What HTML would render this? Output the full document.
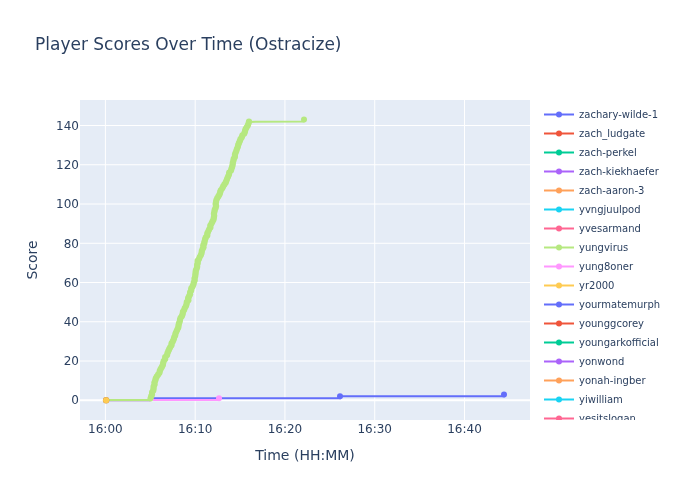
<!DOCTYPE html>
<html><head><meta charset="utf-8"><title>Player Scores Over Time (Ostracize)</title>
<style>
html,body{margin:0;padding:0;background:#fff;}
svg{display:block;}
text{font-family:"DejaVu Sans","Liberation Sans",sans-serif;fill:#2a3f5f;}
</style></head><body>
<svg width="700" height="500" viewBox="0 0 700 500">
<rect x="0" y="0" width="700" height="500" fill="#ffffff"/>
<rect x="80" y="100" width="450" height="320" fill="#E5ECF6"/>
<clipPath id="pc"><rect x="80" y="100" width="450" height="320"/></clipPath>
<clipPath id="lc"><rect x="538" y="100" width="160" height="320"/></clipPath>

<g stroke="#ffffff" stroke-width="1" shape-rendering="auto">
<line x1="105.40" y1="100" x2="105.40" y2="420"/>
<line x1="195.18" y1="100" x2="195.18" y2="420"/>
<line x1="284.95" y1="100" x2="284.95" y2="420"/>
<line x1="374.73" y1="100" x2="374.73" y2="420"/>
<line x1="464.50" y1="100" x2="464.50" y2="420"/>
<line x1="80" y1="361.00" x2="530" y2="361.00"/>
<line x1="80" y1="321.75" x2="530" y2="321.75"/>
<line x1="80" y1="282.50" x2="530" y2="282.50"/>
<line x1="80" y1="243.25" x2="530" y2="243.25"/>
<line x1="80" y1="204.00" x2="530" y2="204.00"/>
<line x1="80" y1="164.75" x2="530" y2="164.75"/>
<line x1="80" y1="125.50" x2="530" y2="125.50"/>
</g>
<line x1="80" y1="400.25" x2="530" y2="400.25" stroke="#ffffff" stroke-width="2"/>
<g clip-path="url(#pc)">
<path d="M152,398.3 L340,398.3 L340,396.3 L504,396.3 L504,394.4" stroke="#636EFA" stroke-width="2" fill="none"/>
<circle cx="340" cy="396.3" r="3" fill="#636EFA"/>
<circle cx="504" cy="394.4" r="3" fill="#636EFA"/>
<path d="M106.1,400.6 L150.5,400.6" stroke="#b9a3cf" stroke-width="1.6" fill="none"/>
<path d="M106.1,400 L150.5,400" stroke="#B6E880" stroke-width="2" fill="none"/>
<path d="M150.5,400 L150.6,398.0 L153.4,390.0 L155.5,380.0 L158.0,375.0 L160.6,370.0 L164.2,360.0 L169.3,350.0 L173.3,340.0 L177.5,330.0 L180.0,320.0 L184.0,310.0 L187.9,300.0 L191.3,290.0 L194.5,280.0 L195.9,270.0 L198.3,260.0 L202.5,250.0 L205.3,240.0 L209.0,230.0 L213.0,220.0 L214.8,210.0 L216.7,200.0 L221.5,190.0 L226.5,180.0 L230.8,170.0 L233.8,160.0 L236.9,150.0 L240.6,140.0 L245.6,130.0 L248.0,125.0 L249.0,121.9 L304,121.6 L304,119.6" stroke="#B6E880" stroke-width="2" fill="none" stroke-linejoin="round"/>
<g fill="#B6E880">
<circle cx="150.6" cy="398.3" r="3.1"/>
<circle cx="151.2" cy="396.3" r="3.1"/>
<circle cx="152.0" cy="394.4" r="3.1"/>
<circle cx="152.1" cy="392.4" r="3.1"/>
<circle cx="153.3" cy="390.4" r="3.1"/>
<circle cx="153.6" cy="388.5" r="3.1"/>
<circle cx="153.6" cy="386.5" r="3.1"/>
<circle cx="154.6" cy="384.6" r="3.1"/>
<circle cx="154.4" cy="382.6" r="3.1"/>
<circle cx="155.3" cy="380.6" r="3.1"/>
<circle cx="155.7" cy="378.7" r="3.1"/>
<circle cx="156.7" cy="376.7" r="3.1"/>
<circle cx="158.1" cy="374.7" r="3.1"/>
<circle cx="159.5" cy="372.8" r="3.1"/>
<circle cx="159.8" cy="370.8" r="3.1"/>
<circle cx="160.7" cy="368.9" r="3.1"/>
<circle cx="161.9" cy="366.9" r="3.1"/>
<circle cx="162.9" cy="364.9" r="3.1"/>
<circle cx="163.2" cy="363.0" r="3.1"/>
<circle cx="163.7" cy="361.0" r="3.1"/>
<circle cx="165.2" cy="359.0" r="3.1"/>
<circle cx="165.2" cy="357.1" r="3.1"/>
<circle cx="167.1" cy="355.1" r="3.1"/>
<circle cx="167.5" cy="353.1" r="3.1"/>
<circle cx="168.3" cy="351.2" r="3.1"/>
<circle cx="169.2" cy="349.2" r="3.1"/>
<circle cx="170.2" cy="347.3" r="3.1"/>
<circle cx="171.5" cy="345.3" r="3.1"/>
<circle cx="171.6" cy="343.3" r="3.1"/>
<circle cx="172.8" cy="341.4" r="3.1"/>
<circle cx="173.7" cy="339.4" r="3.1"/>
<circle cx="174.2" cy="337.4" r="3.1"/>
<circle cx="175.2" cy="335.5" r="3.1"/>
<circle cx="175.5" cy="333.5" r="3.1"/>
<circle cx="176.4" cy="331.6" r="3.1"/>
<circle cx="177.3" cy="329.6" r="3.1"/>
<circle cx="178.3" cy="327.6" r="3.1"/>
<circle cx="178.5" cy="325.7" r="3.1"/>
<circle cx="178.9" cy="323.7" r="3.1"/>
<circle cx="179.7" cy="321.8" r="3.1"/>
<circle cx="180.0" cy="319.8" r="3.1"/>
<circle cx="180.6" cy="317.8" r="3.1"/>
<circle cx="182.0" cy="315.9" r="3.1"/>
<circle cx="182.7" cy="313.9" r="3.1"/>
<circle cx="182.9" cy="311.9" r="3.1"/>
<circle cx="184.1" cy="310.0" r="3.1"/>
<circle cx="184.8" cy="308.0" r="3.1"/>
<circle cx="186.0" cy="306.1" r="3.1"/>
<circle cx="186.6" cy="304.1" r="3.1"/>
<circle cx="186.8" cy="302.1" r="3.1"/>
<circle cx="188.4" cy="300.2" r="3.1"/>
<circle cx="188.1" cy="298.2" r="3.1"/>
<circle cx="189.1" cy="296.2" r="3.1"/>
<circle cx="190.1" cy="294.3" r="3.1"/>
<circle cx="190.1" cy="292.3" r="3.1"/>
<circle cx="191.2" cy="290.4" r="3.1"/>
<circle cx="191.3" cy="288.4" r="3.1"/>
<circle cx="192.6" cy="286.4" r="3.1"/>
<circle cx="193.4" cy="284.5" r="3.1"/>
<circle cx="193.8" cy="282.5" r="3.1"/>
<circle cx="194.7" cy="280.5" r="3.1"/>
<circle cx="194.5" cy="278.6" r="3.1"/>
<circle cx="195.2" cy="276.6" r="3.1"/>
<circle cx="195.4" cy="274.6" r="3.1"/>
<circle cx="195.6" cy="272.7" r="3.1"/>
<circle cx="195.8" cy="270.7" r="3.1"/>
<circle cx="196.6" cy="268.8" r="3.1"/>
<circle cx="197.2" cy="266.8" r="3.1"/>
<circle cx="197.1" cy="264.8" r="3.1"/>
<circle cx="197.8" cy="262.9" r="3.1"/>
<circle cx="197.6" cy="260.9" r="3.1"/>
<circle cx="199.0" cy="259.0" r="3.1"/>
<circle cx="199.7" cy="257.0" r="3.1"/>
<circle cx="200.9" cy="255.0" r="3.1"/>
<circle cx="201.6" cy="253.1" r="3.1"/>
<circle cx="201.8" cy="251.1" r="3.1"/>
<circle cx="202.6" cy="249.1" r="3.1"/>
<circle cx="203.5" cy="247.2" r="3.1"/>
<circle cx="203.3" cy="245.2" r="3.1"/>
<circle cx="204.3" cy="243.2" r="3.1"/>
<circle cx="204.6" cy="241.3" r="3.1"/>
<circle cx="205.1" cy="239.3" r="3.1"/>
<circle cx="205.8" cy="237.4" r="3.1"/>
<circle cx="207.3" cy="235.4" r="3.1"/>
<circle cx="207.3" cy="233.4" r="3.1"/>
<circle cx="208.2" cy="231.5" r="3.1"/>
<circle cx="209.1" cy="229.5" r="3.1"/>
<circle cx="210.4" cy="227.6" r="3.1"/>
<circle cx="210.3" cy="225.6" r="3.1"/>
<circle cx="211.5" cy="223.6" r="3.1"/>
<circle cx="212.4" cy="221.7" r="3.1"/>
<circle cx="213.5" cy="219.7" r="3.1"/>
<circle cx="213.8" cy="217.7" r="3.1"/>
<circle cx="214.2" cy="215.8" r="3.1"/>
<circle cx="213.9" cy="213.8" r="3.1"/>
<circle cx="214.4" cy="211.9" r="3.1"/>
<circle cx="214.7" cy="209.9" r="3.1"/>
<circle cx="215.6" cy="207.9" r="3.1"/>
<circle cx="216.1" cy="206.0" r="3.1"/>
<circle cx="215.6" cy="204.0" r="3.1"/>
<circle cx="216.0" cy="202.0" r="3.1"/>
<circle cx="216.4" cy="200.1" r="3.1"/>
<circle cx="217.3" cy="198.1" r="3.1"/>
<circle cx="218.5" cy="196.2" r="3.1"/>
<circle cx="219.6" cy="194.2" r="3.1"/>
<circle cx="220.2" cy="192.2" r="3.1"/>
<circle cx="220.8" cy="190.3" r="3.1"/>
<circle cx="222.3" cy="188.3" r="3.1"/>
<circle cx="223.2" cy="186.3" r="3.1"/>
<circle cx="224.4" cy="184.4" r="3.1"/>
<circle cx="225.8" cy="182.4" r="3.1"/>
<circle cx="226.5" cy="180.5" r="3.1"/>
<circle cx="227.2" cy="178.5" r="3.1"/>
<circle cx="228.1" cy="176.5" r="3.1"/>
<circle cx="229.0" cy="174.6" r="3.1"/>
<circle cx="229.2" cy="172.6" r="3.1"/>
<circle cx="231.0" cy="170.6" r="3.1"/>
<circle cx="231.5" cy="168.7" r="3.1"/>
<circle cx="232.2" cy="166.7" r="3.1"/>
<circle cx="232.7" cy="164.8" r="3.1"/>
<circle cx="232.8" cy="162.8" r="3.1"/>
<circle cx="233.4" cy="160.8" r="3.1"/>
<circle cx="233.7" cy="158.9" r="3.1"/>
<circle cx="234.9" cy="156.9" r="3.1"/>
<circle cx="234.9" cy="154.9" r="3.1"/>
<circle cx="235.5" cy="153.0" r="3.1"/>
<circle cx="236.3" cy="151.0" r="3.1"/>
<circle cx="236.9" cy="149.1" r="3.1"/>
<circle cx="237.8" cy="147.1" r="3.1"/>
<circle cx="238.2" cy="145.1" r="3.1"/>
<circle cx="238.9" cy="143.2" r="3.1"/>
<circle cx="239.8" cy="141.2" r="3.1"/>
<circle cx="240.5" cy="139.2" r="3.1"/>
<circle cx="241.8" cy="137.3" r="3.1"/>
<circle cx="242.4" cy="135.3" r="3.1"/>
<circle cx="244.3" cy="133.4" r="3.1"/>
<circle cx="245.0" cy="131.4" r="3.1"/>
<circle cx="245.5" cy="129.4" r="3.1"/>
<circle cx="246.5" cy="127.5" r="3.1"/>
<circle cx="247.8" cy="125.5" r="3.1"/>
<circle cx="248.5" cy="123.5" r="3.1"/>
<circle cx="249.0" cy="121.6" r="3.1"/>
<circle cx="304" cy="119.6" r="3"/>
</g>
<path d="M153,400 L219,400 L219,398.3" stroke="#FF97FF" stroke-width="2" fill="none"/>
<circle cx="219" cy="398.3" r="3" fill="#FF97FF"/>
<circle cx="106.1" cy="400.2" r="3.2" fill="#c98a4a"/>
<circle cx="106.1" cy="400.2" r="3" fill="#FECB52"/>
</g>
<g font-size="12px">
<text x="105.40" y="433" text-anchor="middle">16:00</text>
<text x="195.18" y="433" text-anchor="middle">16:10</text>
<text x="284.95" y="433" text-anchor="middle">16:20</text>
<text x="374.73" y="433" text-anchor="middle">16:30</text>
<text x="464.50" y="433" text-anchor="middle">16:40</text>
<text x="79" y="404" text-anchor="end">0</text>
<text x="79" y="365" text-anchor="end">20</text>
<text x="79" y="326" text-anchor="end">40</text>
<text x="79" y="287" text-anchor="end">60</text>
<text x="79" y="248" text-anchor="end">80</text>
<text x="79" y="208" text-anchor="end">100</text>
<text x="79" y="169" text-anchor="end">120</text>
<text x="79" y="130" text-anchor="end">140</text>
</g>
<text x="35" y="50" font-size="17px">Player Scores Over Time (Ostracize)</text>
<text x="305" y="460" font-size="14px" text-anchor="middle">Time (HH:MM)</text>
<text transform="translate(37.3,260) rotate(-90)" font-size="14px" text-anchor="middle">Score</text>
<g clip-path="url(#lc)">
<line x1="544" y1="114.5" x2="574" y2="114.5" stroke="#636EFA" stroke-width="2"/>
<circle cx="559" cy="114.5" r="3" fill="#636EFA"/>
<text x="579" y="117.9" font-size="10px">zachary-wilde-1</text>
<line x1="544" y1="133.5" x2="574" y2="133.5" stroke="#EF553B" stroke-width="2"/>
<circle cx="559" cy="133.5" r="3" fill="#EF553B"/>
<text x="579" y="136.9" font-size="10px">zach_ludgate</text>
<line x1="544" y1="152.5" x2="574" y2="152.5" stroke="#00CC96" stroke-width="2"/>
<circle cx="559" cy="152.5" r="3" fill="#00CC96"/>
<text x="579" y="155.9" font-size="10px">zach-perkel</text>
<line x1="544" y1="171.5" x2="574" y2="171.5" stroke="#AB63FA" stroke-width="2"/>
<circle cx="559" cy="171.5" r="3" fill="#AB63FA"/>
<text x="579" y="174.9" font-size="10px">zach-kiekhaefer</text>
<line x1="544" y1="190.5" x2="574" y2="190.5" stroke="#FFA15A" stroke-width="2"/>
<circle cx="559" cy="190.5" r="3" fill="#FFA15A"/>
<text x="579" y="193.9" font-size="10px">zach-aaron-3</text>
<line x1="544" y1="209.5" x2="574" y2="209.5" stroke="#19D3F3" stroke-width="2"/>
<circle cx="559" cy="209.5" r="3" fill="#19D3F3"/>
<text x="579" y="212.9" font-size="10px">yvngjuulpod</text>
<line x1="544" y1="228.5" x2="574" y2="228.5" stroke="#FF6692" stroke-width="2"/>
<circle cx="559" cy="228.5" r="3" fill="#FF6692"/>
<text x="579" y="231.9" font-size="10px">yvesarmand</text>
<line x1="544" y1="247.5" x2="574" y2="247.5" stroke="#B6E880" stroke-width="2"/>
<circle cx="559" cy="247.5" r="3" fill="#B6E880"/>
<text x="579" y="250.9" font-size="10px">yungvirus</text>
<line x1="544" y1="266.5" x2="574" y2="266.5" stroke="#FF97FF" stroke-width="2"/>
<circle cx="559" cy="266.5" r="3" fill="#FF97FF"/>
<text x="579" y="269.9" font-size="10px">yung8oner</text>
<line x1="544" y1="285.5" x2="574" y2="285.5" stroke="#FECB52" stroke-width="2"/>
<circle cx="559" cy="285.5" r="3" fill="#FECB52"/>
<text x="579" y="288.9" font-size="10px">yr2000</text>
<line x1="544" y1="304.5" x2="574" y2="304.5" stroke="#636EFA" stroke-width="2"/>
<circle cx="559" cy="304.5" r="3" fill="#636EFA"/>
<text x="579" y="307.9" font-size="10px">yourmatemurph</text>
<line x1="544" y1="323.5" x2="574" y2="323.5" stroke="#EF553B" stroke-width="2"/>
<circle cx="559" cy="323.5" r="3" fill="#EF553B"/>
<text x="579" y="326.9" font-size="10px">younggcorey</text>
<line x1="544" y1="342.5" x2="574" y2="342.5" stroke="#00CC96" stroke-width="2"/>
<circle cx="559" cy="342.5" r="3" fill="#00CC96"/>
<text x="579" y="345.9" font-size="10px">youngarkofficial</text>
<line x1="544" y1="361.5" x2="574" y2="361.5" stroke="#AB63FA" stroke-width="2"/>
<circle cx="559" cy="361.5" r="3" fill="#AB63FA"/>
<text x="579" y="364.9" font-size="10px">yonwond</text>
<line x1="544" y1="380.5" x2="574" y2="380.5" stroke="#FFA15A" stroke-width="2"/>
<circle cx="559" cy="380.5" r="3" fill="#FFA15A"/>
<text x="579" y="383.9" font-size="10px">yonah-ingber</text>
<line x1="544" y1="399.5" x2="574" y2="399.5" stroke="#19D3F3" stroke-width="2"/>
<circle cx="559" cy="399.5" r="3" fill="#19D3F3"/>
<text x="579" y="402.9" font-size="10px">yiwilliam</text>
<line x1="544" y1="418.5" x2="574" y2="418.5" stroke="#FF6692" stroke-width="2"/>
<circle cx="559" cy="418.5" r="3" fill="#FF6692"/>
<text x="579" y="421.9" font-size="10px">yesitslogan</text>
</g>
</svg></body></html>
